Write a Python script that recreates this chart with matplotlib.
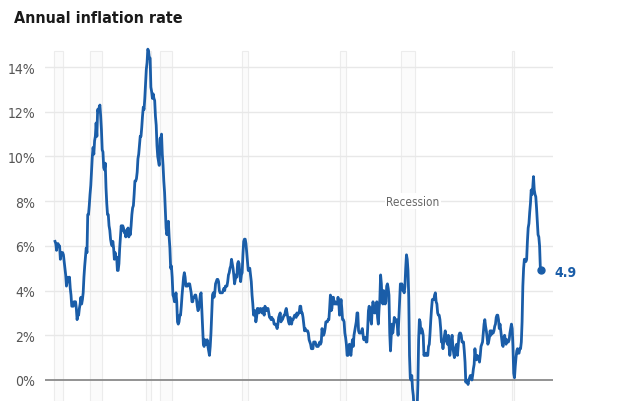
import matplotlib

matplotlib.use("Agg")
import matplotlib.pyplot as plt
import numpy as np

BLUE = "#1a5da8"
GRID = "#e8e8e8"
LABEL = "#555555"

# year-over-year CPI change, monthly (Jan..Dec)
cpi_1970s = [
    [6.2, 6.1, 5.8, 6.1, 6.1, 6.0, 6.0, 5.4, 5.7, 5.6, 5.7, 5.6],
    [5.3, 5.0, 4.7, 4.2, 4.4, 4.6, 4.4, 4.6, 4.1, 3.8, 3.3, 3.3],
    [3.3, 3.5, 3.5, 3.5, 3.2, 2.7, 2.9, 2.9, 3.2, 3.4, 3.7, 3.4],
    [3.6, 3.9, 4.6, 5.1, 5.5, 5.9, 5.7, 7.4, 7.4, 7.8, 8.3, 8.7],
    [9.4, 10.0, 10.4, 10.1, 10.7, 10.9, 11.5, 10.9, 12.1, 12.0, 12.2, 12.3],
    [11.8, 11.2, 10.3, 10.2, 9.5, 9.4, 9.7, 8.6, 7.9, 7.4, 7.4, 6.9],
    [6.7, 6.3, 6.1, 6.0, 6.2, 5.9, 5.4, 5.7, 5.5, 5.5, 4.9, 4.9],
    [5.2, 5.9, 6.4, 6.9, 6.7, 6.9, 6.8, 6.6, 6.6, 6.4, 6.7, 6.7],
    [6.8, 6.4, 6.6, 6.5, 6.9, 7.4, 7.7, 7.8, 8.3, 8.9, 8.9, 9.0],
    [9.3, 9.9, 10.1, 10.5, 10.9, 10.9, 11.3, 11.8, 12.2, 12.1, 12.6, 13.3],
]
cpi_1980s = [
    [13.9, 14.2, 14.8, 14.7, 14.4, 14.4, 13.1, 12.9, 12.6, 12.8, 12.6, 12.5],
    [11.8, 11.4, 10.5, 10.0, 9.8, 9.6, 10.8, 10.8, 11.0, 10.1, 9.6, 8.9],
    [8.4, 7.6, 6.8, 6.5, 6.7, 7.1, 6.4, 5.9, 5.0, 5.1, 4.6, 3.8],
    [3.7, 3.5, 3.6, 3.9, 3.5, 2.6, 2.5, 2.6, 2.9, 2.9, 3.3, 3.8],
    [4.2, 4.6, 4.8, 4.6, 4.2, 4.2, 4.2, 4.3, 4.3, 4.3, 4.1, 3.9],
    [3.5, 3.5, 3.7, 3.7, 3.8, 3.8, 3.6, 3.3, 3.1, 3.2, 3.5, 3.8],
    [3.9, 3.1, 2.3, 1.6, 1.5, 1.8, 1.6, 1.6, 1.8, 1.5, 1.3, 1.1],
    [1.5, 2.1, 3.0, 3.8, 3.9, 3.7, 3.9, 4.3, 4.4, 4.5, 4.5, 4.4],
    [4.0, 3.9, 3.9, 3.9, 3.9, 4.0, 4.1, 4.0, 4.2, 4.2, 4.2, 4.4],
    [4.7, 4.8, 5.0, 5.1, 5.4, 5.2, 5.0, 4.7, 4.3, 4.5, 4.7, 4.6],
]
cpi_1990s = [
    [5.2, 5.3, 5.2, 4.7, 4.4, 4.7, 4.8, 5.6, 6.2, 6.3, 6.3, 6.1],
    [5.7, 5.3, 4.9, 4.9, 5.0, 4.7, 4.4, 3.8, 3.4, 2.9, 3.0, 3.1],
    [2.6, 2.8, 3.2, 3.2, 3.0, 3.1, 3.2, 3.1, 3.0, 3.2, 3.0, 2.9],
    [3.3, 3.2, 3.1, 3.2, 3.2, 3.0, 2.8, 2.8, 2.7, 2.8, 2.7, 2.7],
    [2.5, 2.5, 2.5, 2.4, 2.3, 2.5, 2.8, 2.9, 3.0, 2.6, 2.7, 2.7],
    [2.8, 2.9, 2.9, 3.1, 3.2, 3.0, 2.8, 2.6, 2.5, 2.8, 2.6, 2.5],
    [2.7, 2.7, 2.8, 2.9, 2.9, 2.8, 3.0, 2.9, 3.0, 3.0, 3.3, 3.3],
    [3.0, 3.0, 2.8, 2.5, 2.2, 2.3, 2.2, 2.2, 2.2, 2.1, 1.8, 1.7],
    [1.6, 1.4, 1.4, 1.4, 1.7, 1.7, 1.7, 1.6, 1.5, 1.5, 1.5, 1.6],
    [1.7, 1.6, 1.7, 2.3, 2.1, 2.0, 2.1, 2.3, 2.6, 2.6, 2.6, 2.7],
]
cpi_2000s = [
    [2.7, 3.2, 3.8, 3.1, 3.2, 3.7, 3.7, 3.4, 3.5, 3.4, 3.4, 3.4],
    [3.7, 3.5, 2.9, 3.3, 3.6, 3.2, 2.7, 2.7, 2.6, 2.1, 1.9, 1.6],
    [1.1, 1.1, 1.5, 1.6, 1.2, 1.1, 1.5, 1.8, 1.5, 2.0, 2.2, 2.4],
    [2.6, 3.0, 3.0, 2.2, 2.1, 2.1, 2.1, 2.2, 2.3, 2.0, 1.8, 1.9],
    [1.9, 1.7, 1.7, 2.3, 3.1, 3.3, 3.0, 2.7, 2.5, 3.2, 3.5, 3.3],
    [3.0, 3.0, 3.1, 3.5, 2.8, 2.5, 3.2, 3.6, 4.7, 4.3, 3.5, 3.4],
    [4.0, 3.6, 3.4, 3.5, 4.2, 4.3, 4.1, 3.8, 2.1, 1.3, 2.0, 2.5],
    [2.1, 2.4, 2.8, 2.6, 2.7, 2.7, 2.4, 2.0, 2.8, 3.5, 4.3, 4.1],
    [4.3, 4.0, 4.0, 3.9, 4.2, 5.0, 5.6, 5.4, 4.9, 3.7, 1.1, 0.1],
    [0.0, 0.2, -0.4, -0.7, -1.3, -1.4, -2.1, -1.5, -1.3, -0.2, 1.8, 2.7],
]
cpi_2010s = [
    [2.6, 2.1, 2.3, 2.2, 2.0, 1.1, 1.2, 1.1, 1.1, 1.2, 1.1, 1.5],
    [1.6, 2.1, 2.7, 3.2, 3.6, 3.6, 3.6, 3.8, 3.9, 3.5, 3.4, 3.0],
    [2.9, 2.9, 2.7, 2.3, 1.7, 1.7, 1.4, 1.7, 2.0, 2.2, 1.8, 1.7],
    [1.6, 2.0, 1.5, 1.1, 1.4, 1.8, 2.0, 1.5, 1.2, 1.0, 1.2, 1.5],
    [1.6, 1.1, 1.5, 2.0, 2.1, 2.1, 2.0, 1.7, 1.7, 1.7, 1.3, 0.8],
    [-0.1, 0.0, -0.1, -0.2, 0.0, 0.1, 0.2, 0.2, 0.0, 0.2, 0.5, 0.7],
    [1.4, 1.0, 0.9, 1.1, 1.0, 1.0, 0.8, 1.1, 1.5, 1.6, 1.7, 2.1],
    [2.5, 2.7, 2.4, 2.2, 1.9, 1.6, 1.7, 1.9, 2.2, 2.0, 2.2, 2.1],
    [2.1, 2.2, 2.4, 2.5, 2.8, 2.9, 2.9, 2.7, 2.3, 2.5, 2.2, 1.9],
    [1.6, 1.5, 1.9, 2.0, 1.8, 1.6, 1.8, 1.7, 1.7, 1.8, 2.1, 2.3],
]
cpi_2020s = [
    [2.5, 2.3, 1.5, 0.3, 0.1, 0.6, 1.0, 1.3, 1.4, 1.2, 1.2, 1.4],
    [1.4, 1.7, 2.6, 4.2, 5.0, 5.4, 5.4, 5.3, 5.4, 6.2, 6.8, 7.0],
    [7.5, 7.9, 8.5, 8.3, 8.6, 9.1, 8.5, 8.3, 8.2, 7.7, 7.1, 6.5],
    [6.4, 6.0, 5.0, 4.9],
]

# recession periods (start, end) in decimal years
recessions = [(1969.92, 1970.83), (1973.83, 1975.17), (1980.0, 1980.5),
              (1981.5, 1982.83), (1990.5, 1991.17), (2001.17, 2001.83),
              (2007.92, 2009.42), (2020.08, 2020.25)]

y_ticks = [0, 2, 4, 6, 8, 10, 12, 14]

rates = [v for block in (cpi_1970s, cpi_1980s, cpi_1990s, cpi_2000s, cpi_2010s, cpi_2020s)
         for yr in block for v in yr]
dates = 1970 + np.arange(len(rates)) / 12

NARROW = dict(family="DejaVu Sans", stretch="condensed")

fig = plt.figure(figsize=(6.4, 4.02), dpi=100)
ax = fig.add_axes([0.0703, 0.0, 0.794, 0.888])
ax.set_xlim(1968.9, 2024.57)
ax.set_ylim(-0.94, 15.03)

for s, e in recessions:
    ax.axvspan(s, e, ymin=0, ymax=0.98, facecolor="#fbfbfb", edgecolor="#ececec",
               lw=0.8, zorder=0)

for t in y_ticks:
    ax.axhline(t, color="#8a8a8a" if t == 0 else GRID, lw=1.3 if t == 0 else 1.0, zorder=1)

ax.plot(dates, rates, color=BLUE, lw=2.0, zorder=3, solid_joinstyle="round")
ax.plot(dates[-1], rates[-1], "o", color=BLUE, ms=5, zorder=4)
ax.text(dates[-1] + 1.5, rates[-1] - 0.05, f"{rates[-1]:.1f}", color=BLUE,
        fontsize=10, fontweight="bold", va="center", ha="left", **NARROW)

ax.text(2009.2, 8.0, "Recession", color="#666666", fontsize=8.5, ha="center", va="center",
        bbox=dict(facecolor="white", edgecolor="none", pad=1.0), zorder=2, **NARROW)

ax.set_yticks(y_ticks)
ax.set_yticklabels([f"{t}%" for t in y_ticks], color=LABEL, fontsize=10, **NARROW)
ax.tick_params(axis="y", length=0, pad=7)
ax.set_xticks([])
for sp in ax.spines.values():
    sp.set_visible(False)

fig.text(0.022, 0.955, "Annual inflation rate", fontsize=11.5, fontweight="bold",
         color="#1a1a1a", va="center", ha="left", **NARROW)

fig.savefig("out.png", dpi=100, facecolor="white")
